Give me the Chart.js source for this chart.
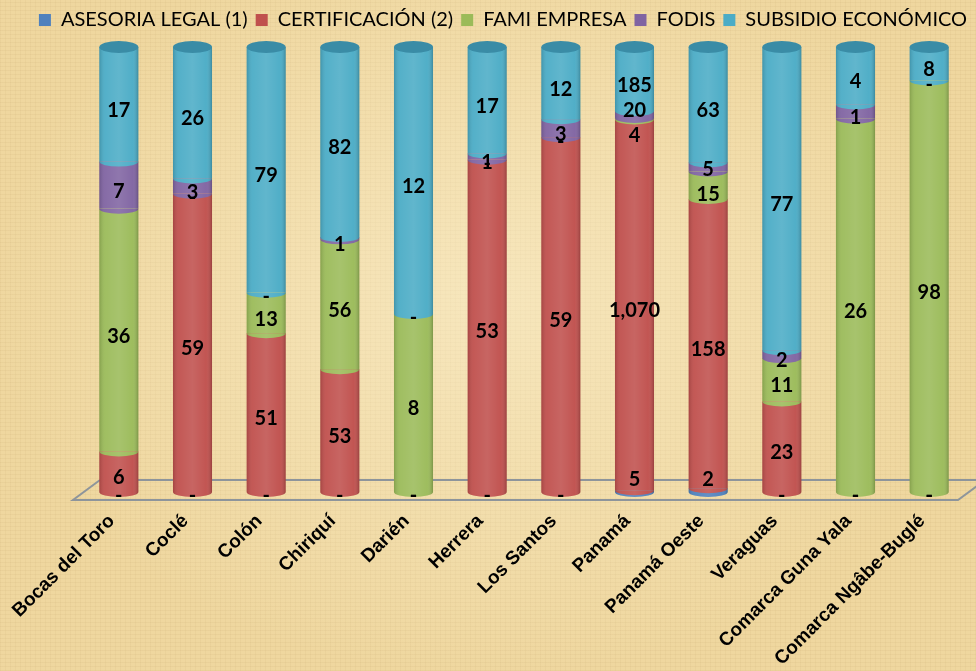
<!DOCTYPE html>
<html>
<head>
<meta charset="utf-8">
<script src="https://cdn.jsdelivr.net/npm/chart.js@4.4.1/dist/chart.umd.min.js"></script>
<style>
    html, body {
        margin: 0;
        padding: 0;
    }
    body {
        width: 976px;
        height: 671px;
        overflow: hidden;
        background-color: #efd79f;
        background-image:
            radial-gradient(ellipse at 50% 45%, rgba(255, 246, 218, 0.5), rgba(255, 240, 200, 0) 72%),
            repeating-linear-gradient(0deg, rgba(150, 110, 50, 0.06) 0 1px, transparent 1px 4px),
            repeating-linear-gradient(90deg, rgba(150, 110, 50, 0.05) 0 1px, transparent 1px 5px);
    }
</style>
</head>
<body>
<canvas id="stack-chart" width="976" height="671"></canvas>
<script>
/* data */
const regions = [
    "Bocas del Toro", "Coclé", "Colón", "Chiriquí", "Darién", "Herrera",
    "Los Santos", "Panamá", "Panamá Oeste", "Veraguas",
    "Comarca Guna Yala", "Comarca Ngâbe-Buglé"
];
const seriesNames = ["ASESORIA LEGAL (1)", "CERTIFICACIÓN (2)", "FAMI EMPRESA", "FODIS", "SUBSIDIO ECONÓMICO"];

const asesoriaLegal = [0, 0, 0, 0, 0, 0, 0, 5, 2, 0, 0, 0];
const certificacion = [6, 59, 51, 53, 0, 53, 59, 1070, 158, 23, 0, 0];
const famiEmpresa   = [36, 0, 13, 56, 8, 0, 0, 4, 15, 11, 26, 98];
const fodis         = [7, 3, 0, 1, 0, 1, 3, 20, 5, 2, 1, 0];
const subsidio      = [17, 26, 79, 82, 12, 17, 12, 185, 63, 77, 4, 8];

const seriesColors = ["#4f81bd", "#c0504d", "#9bbb59", "#8064a2", "#4bacc6"];
const topColors = ["#3d6a9e", "#9c3c3a", "#7e9c44", "#654e85", "#3a8ca6"];

const allSeries = [asesoriaLegal, certificacion, famiEmpresa, fodis, subsidio];

// totals per region, the chart is 100% stacked
const totals = regions.map((r, i) => allSeries.reduce((sum, s) => sum + s[i], 0));

const datasets = allSeries.map((values, idx) => ({
    label: seriesNames[idx],
    data: values.map((v, i) => v / totals[i] * 100),
    backgroundColor: seriesColors[idx],
    borderWidth: 0,
    categoryPercentage: 1,
    barPercentage: 0.53
}));

const RY = 5;

/*
    cylinder look: floor, rounded segment edges, shading and top caps
*/
const cylinderPlugin = {
    id: "cylinders",
    beforeDatasetsDraw(chart) {
        const ctx = chart.ctx;
        const area = chart.chartArea;
        const frontY = area.bottom + 8;
        const backY = area.bottom - 12;

        ctx.save();
        ctx.strokeStyle = "#8e959b";
        ctx.lineWidth = 2;
        ctx.beginPath();
        ctx.moveTo(area.left + 18, backY);
        ctx.lineTo(area.right + 19, backY);
        ctx.moveTo(area.left + 18, backY);
        ctx.lineTo(area.left - 9, frontY);
        ctx.lineTo(area.right - 8, frontY);
        ctx.lineTo(area.right + 19, backY);
        ctx.stroke();
        ctx.restore();
    },
    afterDatasetsDraw(chart) {
        const ctx = chart.ctx;
        const zeroY = chart.scales.y.getPixelForValue(0);

        ctx.save();
        regions.forEach((region, i) => {
            let topY = zeroY;
            let topIdx = -1;
            let x = 0;
            let w = 0;

            // lower half ellipse at the base of every segment, bottom to top
            for (let d = 0; d < allSeries.length; d++) {
                const el = chart.getDatasetMeta(d).data[i];
                const p = el.getProps(["x", "y", "base", "width"], true);
                x = p.x;
                w = p.width;
                if (allSeries[d][i] > 0) {
                    ctx.fillStyle = seriesColors[d];
                    ctx.beginPath();
                    ctx.ellipse(p.x, p.base, p.width / 2, RY, 0, 0, Math.PI);
                    ctx.fill();
                    topY = p.y;
                    topIdx = d;
                }
            }

            // shading across the cylinder
            const left = x - w / 2;
            const right = x + w / 2;
            const shade = ctx.createLinearGradient(left, 0, right, 0);
            shade.addColorStop(0, "rgba(0, 0, 0, 0.14)");
            shade.addColorStop(0.15, "rgba(255, 255, 255, 0.05)");
            shade.addColorStop(0.5, "rgba(255, 255, 255, 0.12)");
            shade.addColorStop(0.85, "rgba(255, 255, 255, 0.03)");
            shade.addColorStop(1, "rgba(0, 0, 0, 0.2)");
            ctx.fillStyle = shade;
            ctx.beginPath();
            ctx.moveTo(left, topY);
            ctx.lineTo(left, zeroY);
            ctx.ellipse(x, zeroY, w / 2, RY, 0, Math.PI, 0, true);
            ctx.lineTo(right, topY);
            ctx.closePath();
            ctx.fill();

            // top cap
            if (topIdx >= 0) {
                ctx.fillStyle = topColors[topIdx];
                ctx.beginPath();
                ctx.ellipse(x, topY, w / 2, RY + 1, 0, 0, Math.PI * 2);
                ctx.fill();
            }
        });
        ctx.restore();
    }
};

/*
    value labels, "-" for zeros
*/
const valueLabelPlugin = {
    id: "valueLabels",
    afterDatasetsDraw(chart) {
        const ctx = chart.ctx;
        const bottom = chart.chartArea.bottom;

        ctx.save();
        ctx.fillStyle = "#000";
        ctx.textAlign = "center";
        ctx.textBaseline = "middle";
        ctx.font = "bold 20px Lato";

        regions.forEach((region, i) => {
            const labels = [];
            for (let d = 0; d < allSeries.length; d++) {
                const el = chart.getDatasetMeta(d).data[i];
                const p = el.getProps(["x", "y", "base"], true);
                const value = allSeries[d][i];
                if (value === 0) {
                    ctx.fillText("-", p.x, p.y + RY - 1);
                } else {
                    let y = (p.y + p.base) / 2 + RY + 1;
                    y = Math.min(y, bottom - 12);
                    labels.push({ x: p.x, y: y, text: value.toLocaleString("en-US") });
                }
            }

            // push apart labels that sit on top of each other
            labels.sort((a, b) => a.y - b.y);
            const minGap = 25;
            for (let iter = 0; iter < 20; iter++) {
                for (let k = 1; k < labels.length; k++) {
                    const gap = labels[k].y - labels[k - 1].y;
                    if (gap < minGap) {
                        const shift = (minGap - gap) / 2;
                        labels[k - 1].y -= shift;
                        labels[k].y += shift;
                    }
                }
            }
            labels.forEach(l => ctx.fillText(l.text, l.x, l.y));
        });
        ctx.restore();
    }
};

const ctx = document.getElementById("stack-chart").getContext("2d");

const stackChart = new Chart(ctx, {
    type: "bar",
    data: {
        labels: regions,
        datasets: datasets
    },
    options: {
        responsive: false,
        animation: false,
        devicePixelRatio: 1,
        layout: {
            padding: { top: 2, left: 30, right: 0, bottom: 0 }
        },
        plugins: {
            legend: {
                position: "top",
                labels: {
                    boxWidth: 12,
                    boxHeight: 12,
                    padding: 8,
                    color: "#000",
                    font: { family: "Lato", size: 20 }
                }
            },
            tooltip: { enabled: false }
        },
        scales: {
            x: {
                stacked: true,
                grid: { display: false },
                border: { display: false },
                ticks: {
                    color: "#000",
                    autoSkip: false,
                    maxRotation: 45,
                    minRotation: 45,
                    padding: 10,
                    labelOffset: -7,
                    font: { family: "Liberation Sans", weight: "bold", size: 19 }
                },
                afterFit(scale) {
                    scale.height = 179;
                }
            },
            xTop: {
                type: "category",
                position: "top",
                display: true,
                grid: { display: false },
                border: { display: false },
                ticks: { display: false },
                afterFit(scale) {
                    scale.height = 7;
                }
            },
            y: {
                stacked: true,
                min: 0,
                max: 100,
                display: true,
                grid: { display: false },
                border: { display: false },
                ticks: { display: false },
                afterFit(scale) {
                    scale.width = 52;
                }
            },
            y2: {
                position: "right",
                display: true,
                grid: { display: false },
                border: { display: false },
                ticks: { display: false },
                afterFit(scale) {
                    scale.width = 10;
                }
            }
        }
    },
    plugins: [cylinderPlugin, valueLabelPlugin]
});
</script>
</body>
</html>
